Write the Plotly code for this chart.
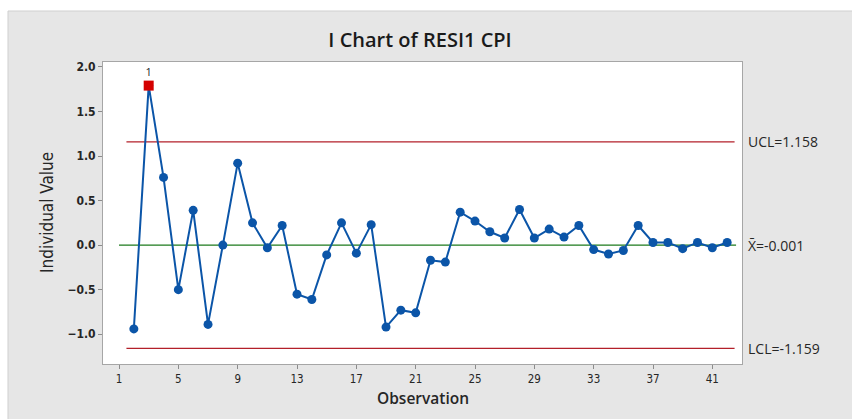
import plotly.graph_objects as go

# DATA
observation = list(range(2, 43))
resi1 = [-0.94, 1.79, 0.76, -0.50, 0.39, -0.89, 0.00, 0.92, 0.25, -0.03,
         0.22, -0.55, -0.61, -0.11, 0.25, -0.09, 0.23, -0.92, -0.73, -0.76,
         -0.17, -0.19, 0.37, 0.27, 0.15, 0.08, 0.40, 0.08, 0.18, 0.09,
         0.22, -0.05, -0.10, -0.06, 0.22, 0.03, 0.03, -0.04, 0.03, -0.03,
         0.03]
ucl = 1.158
center = -0.001
lcl = -1.159
x_ticks = [1, 5, 9, 13, 17, 21, 25, 29, 33, 37, 41]
y_ticks = [-1.0, -0.5, 0.0, 0.5, 1.0, 1.5, 2.0]

# out-of-control points (test 1)
flag_x = [x for x, v in zip(observation, resi1) if v > ucl or v < lcl]
flag_y = [v for v in resi1 if v > ucl or v < lcl]

BLUE = '#0b55a8'
RED = '#b3202a'
GREEN = '#1d7a1d'
TXT = '#262626'
COND = 'DejaVu Sans Condensed'

# plot area in pixels
W, H = 852, 419
ML, MR, MT, MB = 103, 110, 62, 55
PW, PH = W - ML - MR, H - MT - MB

fig = go.Figure()

# LIMIT LINES
fig.add_trace(go.Scatter(x=[1.5, 42.5], y=[ucl, ucl], mode='lines',
                         line=dict(color=RED, width=1.3), hoverinfo='skip'))
fig.add_trace(go.Scatter(x=[1.5, 42.5], y=[lcl, lcl], mode='lines',
                         line=dict(color=RED, width=1.3), hoverinfo='skip'))
fig.add_trace(go.Scatter(x=[1, 42.6], y=[center, center], mode='lines',
                         line=dict(color=GREEN, width=1.3), hoverinfo='skip'))

# SERIES
fig.add_trace(go.Scatter(x=observation, y=resi1, mode='lines+markers',
                         line=dict(color=BLUE, width=2),
                         marker=dict(color=BLUE, size=9, line=dict(width=0))))
fig.add_trace(go.Scatter(x=flag_x, y=flag_y, mode='markers+text',
                         marker=dict(color='#d40000', size=10, symbol='square',
                                     line=dict(width=0)),
                         text=['1'] * len(flag_x), textposition='top center',
                         textfont=dict(family='Open Sans', size=11, color=TXT)))

# LIMIT LABELS
for val, lab in [(ucl, 'UCL=1.158'), (center, 'X̄=-0.001'), (lcl, 'LCL=-1.159')]:
    fig.add_annotation(x=1.0, y=val, xref='paper', yref='y', text=lab,
                       showarrow=False, xanchor='left', xshift=4,
                       font=dict(family='Open Sans', size=14, color=TXT))

# AXIS TITLES
fig.add_annotation(x=0.5, y=0, xref='paper', yref='paper', text='Observation',
                   showarrow=False, yanchor='middle', yshift=-34,
                   font=dict(family='Open Sans', size=15.5, color=TXT, weight=600))
fig.add_annotation(x=0, y=0.5, xref='paper', yref='paper', text='Individual Value',
                   showarrow=False, xanchor='center', xshift=-56, textangle=-90,
                   font=dict(family=COND, size=17, color=TXT))

# BACKGROUND: white strips at top and left of the grey panel
gx = -(ML - 8) / PW
gy = 1 + (MT - 11) / PH
fig.add_shape(type='rect', xref='paper', yref='paper', layer='below',
              x0=-0.3, x1=1.3, y0=gy, y1=1.4, fillcolor='white', line_width=0)
fig.add_shape(type='rect', xref='paper', yref='paper', layer='below',
              x0=-0.3, x1=gx, y0=-0.3, y1=1.4, fillcolor='white', line_width=0)
fig.add_shape(type='line', xref='paper', yref='paper', layer='below',
              x0=gx, x1=gx, y0=-0.3, y1=gy, line=dict(color='#cfcfcf', width=1))
fig.add_shape(type='line', xref='paper', yref='paper', layer='below',
              x0=gx, x1=1.3, y0=gy, y1=gy, line=dict(color='#cfcfcf', width=1))

# LAYOUT
fig.update_layout(
    width=W, height=H,
    margin=dict(l=ML, r=MR, t=MT, b=MB),
    paper_bgcolor='#e6e6e6', plot_bgcolor='white',
    showlegend=False,
    title=dict(text='I Chart of RESI1 CPI', x=0.493, xanchor='center',
               y=0.905, yanchor='middle',
               font=dict(family='Open Sans', size=20, color='#1a1a1a', weight=600)),
    xaxis=dict(range=[-0.08, 43.0], tickvals=x_ticks, ticks='outside', ticklen=4,
               tickcolor='#8c8c8c', showgrid=False, zeroline=False,
               showline=True, linecolor='#a6a6a6', mirror=True, automargin=False,
               tickfont=dict(family=COND, size=11.5, color=TXT)),
    yaxis=dict(range=[-1.334, 2.055], tickvals=y_ticks, tickformat='.1f',
               ticks='outside', ticklen=4, tickcolor='#8c8c8c', showgrid=False,
               zeroline=False, showline=True, linecolor='#a6a6a6', mirror=True,
               automargin=False,
               tickfont=dict(family=COND, size=12, color=TXT, weight=700)),
)

fig.write_html("out.html", config={'displayModeBar': False},
               post_script="document.body.style.margin='0';")
